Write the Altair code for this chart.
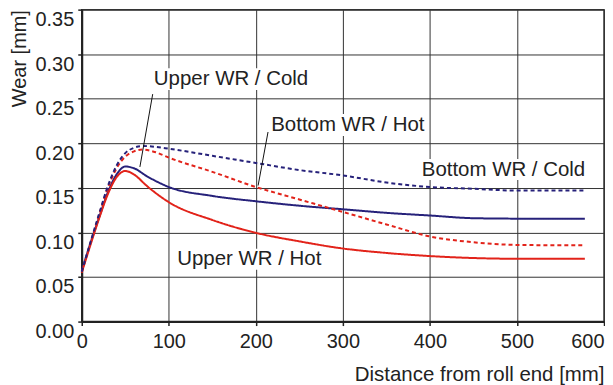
import altair as alt
import pandas as pd

# ---- data ----
x_upper_cold = [0, 10, 20, 30, 40, 50, 60, 75, 100, 150, 200, 250, 300, 350, 400, 450, 500, 578]
y_upper_cold = [0.057, 0.088, 0.117, 0.145, 0.165, 0.174, 0.172, 0.163, 0.151, 0.141, 0.135, 0.130, 0.126, 0.122, 0.119, 0.116, 0.1155, 0.1155]

x_upper_hot = [0, 10, 20, 30, 40, 50, 60, 75, 100, 150, 200, 250, 300, 350, 400, 450, 500, 578]
y_upper_hot = [0.055, 0.086, 0.116, 0.143, 0.162, 0.169, 0.165, 0.152, 0.134, 0.114, 0.0996, 0.090, 0.082, 0.077, 0.0735, 0.0713, 0.0705, 0.0705]

x_bottom_hot = [0, 10, 20, 30, 40, 50, 60, 70, 85, 100, 150, 200, 250, 300, 350, 400, 450, 500, 578]
y_bottom_hot = [0.055, 0.088, 0.120, 0.150, 0.172, 0.185, 0.191, 0.193, 0.190, 0.184, 0.168, 0.151, 0.137, 0.123, 0.109, 0.0955, 0.089, 0.086, 0.0855]

x_bottom_cold = [0, 10, 20, 30, 40, 50, 60, 70, 85, 100, 150, 200, 250, 300, 350, 400, 450, 500, 578]
y_bottom_cold = [0.056, 0.089, 0.121, 0.152, 0.175, 0.189, 0.195, 0.197, 0.196, 0.194, 0.186, 0.178, 0.170, 0.164, 0.156, 0.151, 0.149, 0.147, 0.147]

series_names = ["Upper WR / Cold", "Upper WR / Hot", "Bottom WR / Hot", "Bottom WR / Cold"]
series_colors = ["#26217a", "#e2231a", "#e2231a", "#26217a"]
series_dash = [[1, 0], [1, 0], [4, 3], [4, 3]]

x_ticks = [0, 100, 200, 300, 400, 500, 600]
y_ticks = [0.00, 0.05, 0.10, 0.15, 0.20, 0.25, 0.30, 0.35]

# annotation labels (data coordinates)
label_text = ["Upper WR / Cold", "Bottom WR / Hot", "Bottom WR / Cold", "Upper WR / Hot"]
label_x = [171.5, 305.7, 484.5, 192.5]
label_y = [0.272, 0.2205, 0.1705, 0.070]
box_x1 = [78.1, 211.7, 386.0, 104.0]
box_x2 = [264.9, 398.5, 583.0, 282.0]
box_y1 = [0.2843, 0.2328, 0.1824, 0.0817]
box_y2 = [0.2597, 0.2082, 0.1589, 0.0582]

# leader lines
lead_x1 = [81.5, 214.0]
lead_y1 = [0.2552, 0.2127]
lead_x2 = [66.8, 202.6]
lead_y2 = [0.1735, 0.1526]

# ---- build tables ----
rows = []
for name, xs, ys in [
    ("Upper WR / Cold", x_upper_cold, y_upper_cold),
    ("Upper WR / Hot", x_upper_hot, y_upper_hot),
    ("Bottom WR / Hot", x_bottom_hot, y_bottom_hot),
    ("Bottom WR / Cold", x_bottom_cold, y_bottom_cold),
]:
    for i, (a, b) in enumerate(zip(xs, ys)):
        rows.append({"series": name, "x": a, "y": b, "order": i})
lines_df = pd.DataFrame(rows)

labels_df = pd.DataFrame({
    "text": label_text, "x": label_x, "y": label_y,
    "bx1": box_x1, "bx2": box_x2, "by1": box_y1, "by2": box_y2,
})
leads_df = pd.DataFrame({"x1": lead_x1, "y1": lead_y1, "x2": lead_x2, "y2": lead_y2})

FONT = "Liberation Sans"

xscale = alt.Scale(domain=[0, 600], nice=False, zero=False)
yscale = alt.Scale(domain=[0, 0.35], nice=False)

xaxis = alt.Axis(
    values=x_ticks, format="d", title="Distance from roll end [mm]",
    titleAnchor="end", titleFontSize=20.5, titleFontWeight="normal", titleFont=FONT,
    titleColor="#222", titlePadding=13,
    labelFontSize=20, labelFont=FONT, labelColor="#222", labelPadding=6,
    labelAlign=alt.condition("datum.value == 600", alt.value("right"), alt.value("center")),
    grid=True, gridColor="#333", gridWidth=1,
    domainColor="#222", domainWidth=2, tickColor="#222", tickSize=4, tickWidth=1.5,
)
yaxis = alt.Axis(
    values=y_ticks, format=".2f", title="Wear [mm]",
    titleAngle=270, titleAlign="right", titleBaseline="middle", titleX=-62, titleY=0,
    titleFontSize=20, titleFontWeight="normal", titleFont=FONT,
    titleColor="#222",
    labelFontSize=20, labelFont=FONT, labelColor="#222", labelPadding=4,
    labelBaseline="top", labelAlign="right",
    grid=True, gridColor="#333", gridWidth=1,
    domainColor="#222", domainWidth=2, tickColor="#222", tickSize=4, tickWidth=1.5,
)

lines = alt.Chart(lines_df).mark_line(strokeWidth=2, interpolate="monotone").encode(
    x=alt.X("x:Q", scale=xscale, axis=xaxis),
    y=alt.Y("y:Q", scale=yscale, axis=yaxis),
    color=alt.Color("series:N", scale=alt.Scale(domain=series_names, range=series_colors), legend=None),
    strokeDash=alt.StrokeDash("series:N", scale=alt.Scale(domain=series_names, range=series_dash), legend=None),
    order="order:Q",
)

boxes = alt.Chart(labels_df).mark_rect(color="white").encode(
    x=alt.X("bx1:Q", scale=xscale), x2="bx2:Q",
    y=alt.Y("by1:Q", scale=yscale), y2="by2:Q",
)

texts = alt.Chart(labels_df).mark_text(
    font=FONT, fontSize=20.5, color="#222", align="center", baseline="middle"
).encode(
    x=alt.X("x:Q", scale=xscale), y=alt.Y("y:Q", scale=yscale), text="text:N"
)

leads = alt.Chart(leads_df).mark_rule(color="#111", strokeWidth=1).encode(
    x=alt.X("x1:Q", scale=xscale), y=alt.Y("y1:Q", scale=yscale),
    x2="x2:Q", y2="y2:Q",
)

chart = alt.layer(lines, boxes, texts, leads).properties(
    width=524, height=313,
    padding={"left": 2, "top": 0, "right": 0, "bottom": 0},
    background="white",
).configure_view(stroke="#333", strokeWidth=1.5)

chart.save("out.html", embed_options={"renderer": "svg", "actions": False})
